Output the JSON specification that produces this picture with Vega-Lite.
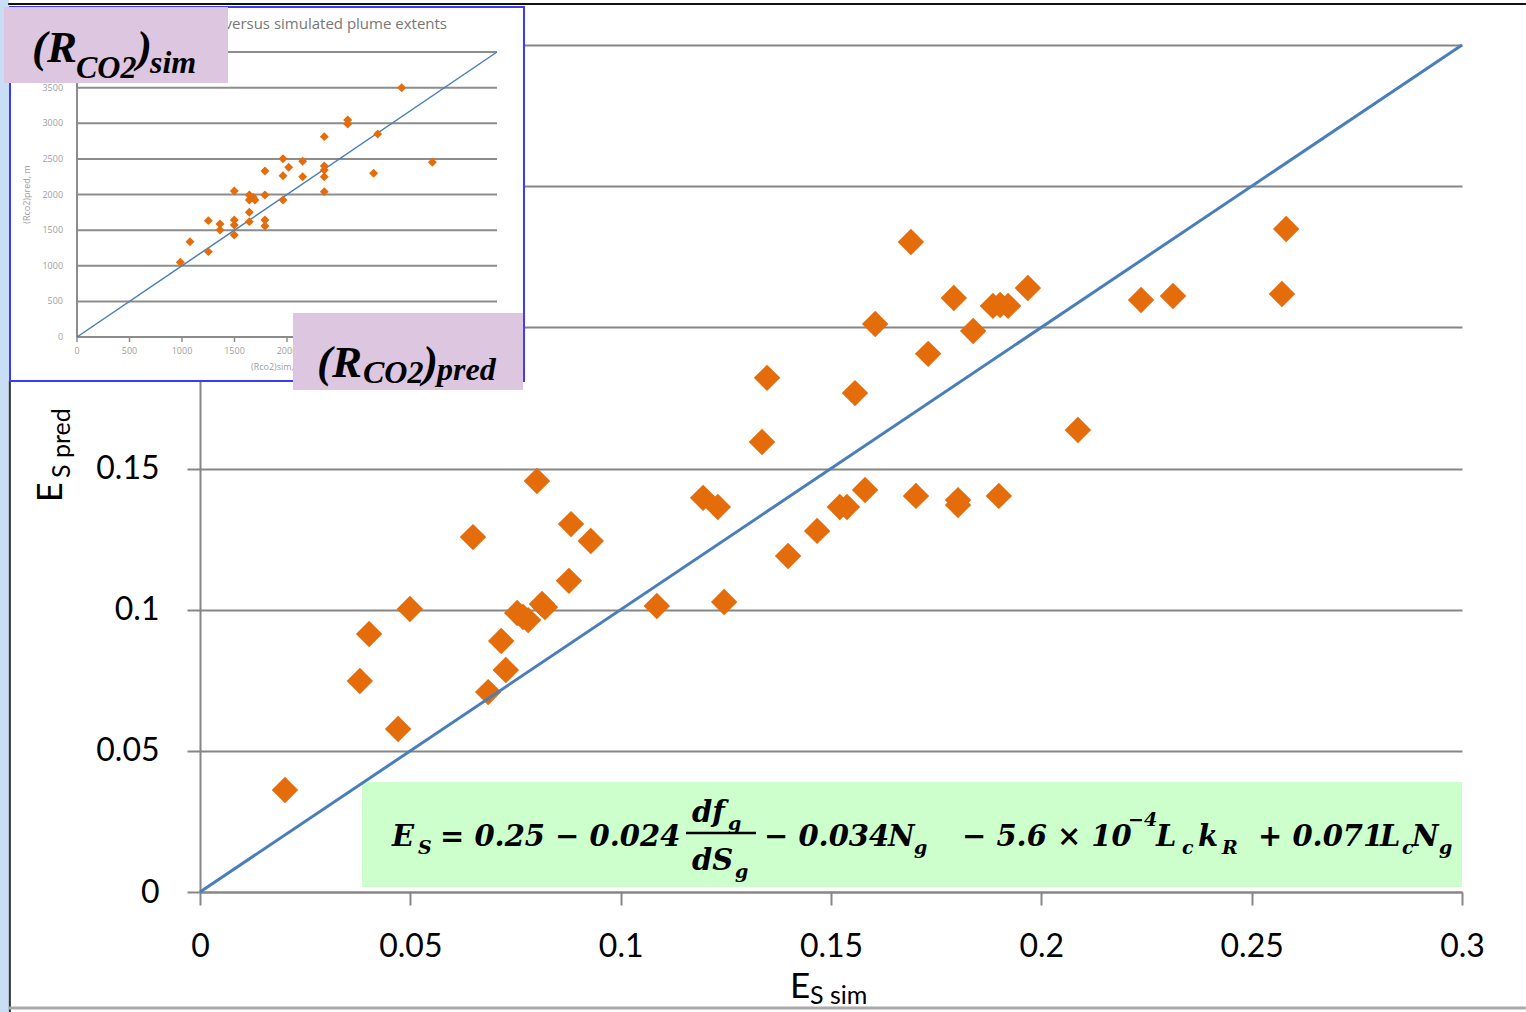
{
"$schema": "https://vega.github.io/schema/vega-lite/v6.json",
"width": 1262, "height": 847,
"autosize": {"type": "none"},
"padding": {"left": 200, "top": 45, "right": 64, "bottom": 120},
"background": "white",
"config": {"view": {"stroke": null}},
"data": {"values": [{"k": 1}]},
"datasets": {
"pts": [
{"x":0.0202,"y":0.0361},{"x":0.0380,"y":0.0747},{"x":0.0402,"y":0.0914},{"x":0.0471,"y":0.0577},{"x":0.0499,"y":0.1002},
{"x":0.0649,"y":0.1257},{"x":0.0685,"y":0.0708},{"x":0.0716,"y":0.0889},{"x":0.0727,"y":0.0786},{"x":0.0754,"y":0.0988},
{"x":0.0768,"y":0.0974},{"x":0.0780,"y":0.0963},{"x":0.0801,"y":0.1456},{"x":0.0813,"y":0.1020},{"x":0.0820,"y":0.1009},
{"x":0.0877,"y":0.1102},{"x":0.0882,"y":0.1303},{"x":0.0929,"y":0.1243},{"x":0.1086,"y":0.1013},{"x":0.1196,"y":0.1396},
{"x":0.1231,"y":0.1364},{"x":0.1246,"y":0.1027},{"x":0.1336,"y":0.1594},{"x":0.1348,"y":0.1821},{"x":0.1398,"y":0.1190},
{"x":0.1467,"y":0.1279},{"x":0.1521,"y":0.1364},{"x":0.1538,"y":0.1364},{"x":0.1557,"y":0.1767},{"x":0.1581,"y":0.1424},
{"x":0.1605,"y":0.2012},{"x":0.1690,"y":0.2302},{"x":0.1702,"y":0.1403},{"x":0.1731,"y":0.1906},{"x":0.1792,"y":0.2104},
{"x":0.1802,"y":0.1388},{"x":0.1802,"y":0.1371},{"x":0.1838,"y":0.1987},{"x":0.1885,"y":0.2076},{"x":0.1902,"y":0.2079},
{"x":0.1921,"y":0.2076},{"x":0.1899,"y":0.1403},{"x":0.1968,"y":0.2139},{"x":0.2087,"y":0.1636},{"x":0.2237,"y":0.2097},
{"x":0.2313,"y":0.2111},{"x":0.2572,"y":0.2118},{"x":0.2582,"y":0.2348}
],
"ipts": [
{"x":3092,"y":3499},{"x":2578,"y":3046},{"x":2578,"y":2989},{"x":2864,"y":2849},{"x":2355,"y":2812},
{"x":1962,"y":2503},{"x":2149,"y":2466},{"x":3384,"y":2452},{"x":2016,"y":2382},{"x":2355,"y":2400},
{"x":2355,"y":2344},{"x":2355,"y":2250},{"x":1790,"y":2330},{"x":1962,"y":2264},{"x":2149,"y":2250},
{"x":2825,"y":2297},{"x":1498,"y":2049},{"x":2355,"y":2040},{"x":1790,"y":1993},{"x":1641,"y":1993},
{"x":1641,"y":1923},{"x":1695,"y":1923},{"x":1679,"y":1960},{"x":1962,"y":1923},{"x":1641,"y":1750},
{"x":1641,"y":1619},{"x":1790,"y":1642},{"x":1790,"y":1558},{"x":1251,"y":1633},{"x":1362,"y":1586},
{"x":1362,"y":1502},{"x":1498,"y":1642},{"x":1498,"y":1572},{"x":1498,"y":1432},{"x":1076,"y":1338},
{"x":1251,"y":1198},{"x":984,"y":1048}
],
"diag": [{"a":0,"b":0},{"a":0.3,"b":0.3}],
"idiag": [{"a":0,"b":0},{"a":4000,"b":4000}],
"igrid": [{"v":0},{"v":500},{"v":1000},{"v":1500},{"v":2000},{"v":2500},{"v":3000},{"v":3500},{"v":4000}]
},
"layer": [
{
"layer": [
{"mark": {"type":"rect","color":"#c9def5"},
 "encoding": {"x":{"datum":-0.0476,"type":"quantitative","scale":{"domain":[0,0.3],"nice":false,"zero":false}},"x2":{"datum":-0.0454},
 "y":{"datum":0.316,"type":"quantitative","scale":{"domain":[0,0.3],"nice":false,"zero":false}},"y2":{"datum":-0.0425}}},
{"mark": {"type":"rule","color":"#333333","strokeWidth":2},
 "encoding": {"x":{"datum":-0.0452,"type":"quantitative","scale":{"domain":[0,0.3],"nice":false,"zero":false}},
 "y":{"datum":0.181,"type":"quantitative","scale":{"domain":[0,0.3],"nice":false,"zero":false}},"y2":{"datum":-0.0425}}},
{"mark": {"type":"rule","color":"#111111","strokeWidth":2},
 "encoding": {"x":{"datum":-0.0456,"type":"quantitative","scale":{"domain":[0,0.3],"nice":false,"zero":false}},"x2":{"datum":0.3152},
 "y":{"datum":0.3145,"type":"quantitative","scale":{"domain":[0,0.3],"nice":false,"zero":false}}}},
{"mark": {"type":"rule","color":"#aaaaaa","strokeWidth":3},
 "encoding": {"x":{"datum":-0.0454,"type":"quantitative","scale":{"domain":[0,0.3],"nice":false,"zero":false}},"x2":{"datum":0.3152},
 "y":{"datum":-0.0411,"type":"quantitative","scale":{"domain":[0,0.3],"nice":false,"zero":false}}}},
{"mark": {"type":"rect","color":"#ccffcc"},
 "encoding": {"x":{"datum":0.03851,"type":"quantitative","scale":{"domain":[0,0.3],"nice":false,"zero":false}},"x2":{"datum":0.3},
 "y":{"datum":0.03896,"type":"quantitative","scale":{"domain":[0,0.3],"nice":false,"zero":false}},"y2":{"datum":0.00177}}},
{"data": {"name":"pts"},
 "mark": {"type":"point","shape":"diamond","filled":true,"size":700,"color":"#e46c0a","opacity":1},
 "encoding": {
  "x":{"field":"x","type":"quantitative","scale":{"domain":[0,0.3],"nice":false,"zero":false},
   "axis":{"values":[0,0.05,0.1,0.15,0.2,0.25,0.3],"format":"~g","title":null,"grid":false,"labelFont":"Lato","labelFontSize":32,"labelColor":"#000000","tickColor":"#868686","tickWidth":2,"tickSize":13,"domainColor":"#868686","domainWidth":2,"labelPadding":26,"labelFlush":false,"labelOverlap":false}},
  "y":{"field":"y","type":"quantitative","scale":{"domain":[0,0.3],"nice":false,"zero":false},
   "axis":{"values":[0,0.05,0.1,0.15,0.2,0.25,0.3],"format":"~g","title":null,"grid":true,"gridColor":"#868686","gridWidth":2,"labelFont":"Lato","labelFontSize":32,"labelColor":"#000000","tickColor":"#868686","tickWidth":2,"tickSize":13,"domainColor":"#868686","domainWidth":2,"labelPadding":28,"labelFlush":false,"labelOverlap":false}}}},
{"data": {"name":"diag"},
 "mark": {"type":"line","color":"#4a7ebb","strokeWidth":3},
 "encoding": {"x":{"field":"a","type":"quantitative","scale":{"domain":[0,0.3],"nice":false,"zero":false}},
 "y":{"field":"b","type":"quantitative","scale":{"domain":[0,0.3],"nice":false,"zero":false}}}},
{"mark": {"type":"text","text":"E","font":"Lato","fontSize":34,"angle":270,"align":"left","baseline":"alphabetic","color":"#000000"},
 "encoding": {"x":{"datum":-0.03281,"type":"quantitative","scale":{"domain":[0,0.3],"nice":false,"zero":false}},
 "y":{"datum":0.13813,"type":"quantitative","scale":{"domain":[0,0.3],"nice":false,"zero":false}}}},
{"mark": {"type":"text","text":"S pred","font":"Lato","fontSize":25,"angle":270,"align":"left","baseline":"alphabetic","color":"#000000"},
 "encoding": {"x":{"datum":-0.03090,"type":"quantitative","scale":{"domain":[0,0.3],"nice":false,"zero":false}},
 "y":{"datum":0.14663,"type":"quantitative","scale":{"domain":[0,0.3],"nice":false,"zero":false}}}},
{"mark": {"type":"text","text":"E","font":"Lato","fontSize":35,"align":"left","baseline":"alphabetic","color":"#000000"},
 "encoding": {"x":{"datum":0.14025,"type":"quantitative","scale":{"domain":[0,0.3],"nice":false,"zero":false}},
 "y":{"datum":-0.03754,"type":"quantitative","scale":{"domain":[0,0.3],"nice":false,"zero":false}}}},
{"mark": {"type":"text","text":"S sim","font":"Lato","fontSize":25,"align":"left","baseline":"alphabetic","color":"#000000"},
 "encoding": {"x":{"datum":0.14501,"type":"quantitative","scale":{"domain":[0,0.3],"nice":false,"zero":false}},
 "y":{"datum":-0.03967,"type":"quantitative","scale":{"domain":[0,0.3],"nice":false,"zero":false}}}},
{"mark": {"type":"text","text":"E","font":"DejaVu Serif","fontStyle":"italic","fontWeight":"bold","fontSize":29,"align":"left","baseline":"alphabetic","color":"#000000"},
 "encoding": {"x":{"datum":0.04564,"type":"quantitative","scale":{"domain":[0,0.3],"nice":false,"zero":false}},"y":{"datum":0.01629,"type":"quantitative","scale":{"domain":[0,0.3],"nice":false,"zero":false}}}},
{"mark": {"type":"text","text":"= 0.25 − 0.024","font":"DejaVu Serif","fontStyle":"italic","fontWeight":"bold","fontSize":29,"align":"left","baseline":"alphabetic","color":"#000000"},
 "encoding": {"x":{"datum":0.05705,"type":"quantitative","scale":{"domain":[0,0.3],"nice":false,"zero":false}},"y":{"datum":0.01629,"type":"quantitative","scale":{"domain":[0,0.3],"nice":false,"zero":false}}}},
{"mark": {"type":"text","text":"− 0.034","font":"DejaVu Serif","fontStyle":"italic","fontWeight":"bold","fontSize":29,"align":"left","baseline":"alphabetic","color":"#000000"},
 "encoding": {"x":{"datum":0.13407,"type":"quantitative","scale":{"domain":[0,0.3],"nice":false,"zero":false}},"y":{"datum":0.01629,"type":"quantitative","scale":{"domain":[0,0.3],"nice":false,"zero":false}}}},
{"mark": {"type":"text","text":"N","font":"DejaVu Serif","fontStyle":"italic","fontWeight":"bold","fontSize":29,"align":"left","baseline":"alphabetic","color":"#000000"},
 "encoding": {"x":{"datum":0.16355,"type":"quantitative","scale":{"domain":[0,0.3],"nice":false,"zero":false}},"y":{"datum":0.01629,"type":"quantitative","scale":{"domain":[0,0.3],"nice":false,"zero":false}}}},
{"mark": {"type":"text","text":"− 5.6 × 10","font":"DejaVu Serif","fontStyle":"italic","fontWeight":"bold","fontSize":29,"align":"left","baseline":"alphabetic","color":"#000000"},
 "encoding": {"x":{"datum":0.18114,"type":"quantitative","scale":{"domain":[0,0.3],"nice":false,"zero":false}},"y":{"datum":0.01629,"type":"quantitative","scale":{"domain":[0,0.3],"nice":false,"zero":false}}}},
{"mark": {"type":"text","text":"L","font":"DejaVu Serif","fontStyle":"italic","fontWeight":"bold","fontSize":29,"align":"left","baseline":"alphabetic","color":"#000000"},
 "encoding": {"x":{"datum":0.22726,"type":"quantitative","scale":{"domain":[0,0.3],"nice":false,"zero":false}},"y":{"datum":0.01629,"type":"quantitative","scale":{"domain":[0,0.3],"nice":false,"zero":false}}}},
{"mark": {"type":"text","text":"k","font":"DejaVu Serif","fontStyle":"italic","fontWeight":"bold","fontSize":29,"align":"left","baseline":"alphabetic","color":"#000000"},
 "encoding": {"x":{"datum":0.23724,"type":"quantitative","scale":{"domain":[0,0.3],"nice":false,"zero":false}},"y":{"datum":0.01629,"type":"quantitative","scale":{"domain":[0,0.3],"nice":false,"zero":false}}}},
{"mark": {"type":"text","text":"+ 0.071","font":"DejaVu Serif","fontStyle":"italic","fontWeight":"bold","fontSize":29,"align":"left","baseline":"alphabetic","color":"#000000"},
 "encoding": {"x":{"datum":0.25151,"type":"quantitative","scale":{"domain":[0,0.3],"nice":false,"zero":false}},"y":{"datum":0.01629,"type":"quantitative","scale":{"domain":[0,0.3],"nice":false,"zero":false}}}},
{"mark": {"type":"text","text":"L","font":"DejaVu Serif","fontStyle":"italic","fontWeight":"bold","fontSize":29,"align":"left","baseline":"alphabetic","color":"#000000"},
 "encoding": {"x":{"datum":0.28051,"type":"quantitative","scale":{"domain":[0,0.3],"nice":false,"zero":false}},"y":{"datum":0.01629,"type":"quantitative","scale":{"domain":[0,0.3],"nice":false,"zero":false}}}},
{"mark": {"type":"text","text":"N","font":"DejaVu Serif","fontStyle":"italic","fontWeight":"bold","fontSize":29,"align":"left","baseline":"alphabetic","color":"#000000"},
 "encoding": {"x":{"datum":0.28812,"type":"quantitative","scale":{"domain":[0,0.3],"nice":false,"zero":false}},"y":{"datum":0.01629,"type":"quantitative","scale":{"domain":[0,0.3],"nice":false,"zero":false}}}},
{"mark": {"type":"text","text":"S","font":"DejaVu Serif","fontStyle":"italic","fontWeight":"bold","fontSize":19,"align":"left","baseline":"alphabetic","color":"#000000"},
 "encoding": {"x":{"datum":0.05182,"type":"quantitative","scale":{"domain":[0,0.3],"nice":false,"zero":false}},"y":{"datum":0.01346,"type":"quantitative","scale":{"domain":[0,0.3],"nice":false,"zero":false}}}},
{"mark": {"type":"text","text":"g","font":"DejaVu Serif","fontStyle":"italic","fontWeight":"bold","fontSize":19,"align":"left","baseline":"alphabetic","color":"#000000"},
 "encoding": {"x":{"datum":0.16973,"type":"quantitative","scale":{"domain":[0,0.3],"nice":false,"zero":false}},"y":{"datum":0.01346,"type":"quantitative","scale":{"domain":[0,0.3],"nice":false,"zero":false}}}},
{"mark": {"type":"text","text":"c","font":"DejaVu Serif","fontStyle":"italic","fontWeight":"bold","fontSize":19,"align":"left","baseline":"alphabetic","color":"#000000"},
 "encoding": {"x":{"datum":0.23344,"type":"quantitative","scale":{"domain":[0,0.3],"nice":false,"zero":false}},"y":{"datum":0.01346,"type":"quantitative","scale":{"domain":[0,0.3],"nice":false,"zero":false}}}},
{"mark": {"type":"text","text":"R","font":"DejaVu Serif","fontStyle":"italic","fontWeight":"bold","fontSize":19,"align":"left","baseline":"alphabetic","color":"#000000"},
 "encoding": {"x":{"datum":0.24295,"type":"quantitative","scale":{"domain":[0,0.3],"nice":false,"zero":false}},"y":{"datum":0.01346,"type":"quantitative","scale":{"domain":[0,0.3],"nice":false,"zero":false}}}},
{"mark": {"type":"text","text":"c","font":"DejaVu Serif","fontStyle":"italic","fontWeight":"bold","fontSize":19,"align":"left","baseline":"alphabetic","color":"#000000"},
 "encoding": {"x":{"datum":0.28574,"type":"quantitative","scale":{"domain":[0,0.3],"nice":false,"zero":false}},"y":{"datum":0.01346,"type":"quantitative","scale":{"domain":[0,0.3],"nice":false,"zero":false}}}},
{"mark": {"type":"text","text":"g","font":"DejaVu Serif","fontStyle":"italic","fontWeight":"bold","fontSize":19,"align":"left","baseline":"alphabetic","color":"#000000"},
 "encoding": {"x":{"datum":0.29454,"type":"quantitative","scale":{"domain":[0,0.3],"nice":false,"zero":false}},"y":{"datum":0.01346,"type":"quantitative","scale":{"domain":[0,0.3],"nice":false,"zero":false}}}},
{"mark": {"type":"text","text":"−4","font":"DejaVu Serif","fontStyle":"italic","fontWeight":"bold","fontSize":19,"align":"left","baseline":"alphabetic","color":"#000000"},
 "encoding": {"x":{"datum":0.22060,"type":"quantitative","scale":{"domain":[0,0.3],"nice":false,"zero":false}},"y":{"datum":0.02338,"type":"quantitative","scale":{"domain":[0,0.3],"nice":false,"zero":false}}}},
{"mark": {"type":"text","text":"df","font":"DejaVu Serif","fontStyle":"italic","fontWeight":"bold","fontSize":29,"align":"left","baseline":"alphabetic","color":"#000000"},
 "encoding": {"x":{"datum":0.11696,"type":"quantitative","scale":{"domain":[0,0.3],"nice":false,"zero":false}},"y":{"datum":0.02479,"type":"quantitative","scale":{"domain":[0,0.3],"nice":false,"zero":false}}}},
{"mark": {"type":"text","text":"g","font":"DejaVu Serif","fontStyle":"italic","fontWeight":"bold","fontSize":19,"align":"left","baseline":"alphabetic","color":"#000000"},
 "encoding": {"x":{"datum":0.12552,"type":"quantitative","scale":{"domain":[0,0.3],"nice":false,"zero":false}},"y":{"datum":0.02196,"type":"quantitative","scale":{"domain":[0,0.3],"nice":false,"zero":false}}}},
{"mark": {"type":"rule","color":"#000000","strokeWidth":2.5},
 "encoding": {"x":{"datum":0.11553,"type":"quantitative","scale":{"domain":[0,0.3],"nice":false,"zero":false}},"x2":{"datum":0.13217},
 "y":{"datum":0.02090,"type":"quantitative","scale":{"domain":[0,0.3],"nice":false,"zero":false}}}},
{"mark": {"type":"text","text":"dS","font":"DejaVu Serif","fontStyle":"italic","fontWeight":"bold","fontSize":29,"align":"left","baseline":"alphabetic","color":"#000000"},
 "encoding": {"x":{"datum":0.11696,"type":"quantitative","scale":{"domain":[0,0.3],"nice":false,"zero":false}},"y":{"datum":0.00779,"type":"quantitative","scale":{"domain":[0,0.3],"nice":false,"zero":false}}}},
{"mark": {"type":"text","text":"g","font":"DejaVu Serif","fontStyle":"italic","fontWeight":"bold","fontSize":19,"align":"left","baseline":"alphabetic","color":"#000000"},
 "encoding": {"x":{"datum":0.12718,"type":"quantitative","scale":{"domain":[0,0.3],"nice":false,"zero":false}},"y":{"datum":0.00496,"type":"quantitative","scale":{"domain":[0,0.3],"nice":false,"zero":false}}}}
]
},
{
"layer": [
{"mark": {"type":"rect","fill":"#ffffff","stroke":"#3b3bf5","strokeWidth":2},
 "encoding": {"x":{"datum":-638,"type":"quantitative","axis":null,"scale":{"domain":[0,4000],"range":[-123,297],"nice":false,"zero":false}},"x2":{"datum":4257},
 "y":{"datum":4632,"type":"quantitative","axis":null,"scale":{"domain":[0,4000],"range":[292,7],"nice":false,"zero":false}},"y2":{"datum":-618}}},
{"mark": {"type":"text","text":"Predicted versus simulated plume extents","font":"Open Sans","fontSize":15,"align":"right","baseline":"alphabetic","color":"#777777"},
 "encoding": {"x":{"datum":3524,"type":"quantitative","axis":null,"scale":{"domain":[0,4000],"range":[-123,297],"nice":false,"zero":false}},
 "y":{"datum":4323,"type":"quantitative","axis":null,"scale":{"domain":[0,4000],"range":[292,7],"nice":false,"zero":false}}}},
{"data": {"name":"igrid"},
 "mark": {"type":"rule","color":"#8c8c8c","strokeWidth":2},
 "encoding": {"x":{"datum":0,"type":"quantitative","axis":null,"scale":{"domain":[0,4000],"range":[-123,297],"nice":false,"zero":false}},"x2":{"datum":4000},
 "y":{"field":"v","type":"quantitative","axis":null,"scale":{"domain":[0,4000],"range":[292,7],"nice":false,"zero":false}}}},
{"mark": {"type":"rule","color":"#8c8c8c","strokeWidth":2},
 "encoding": {"x":{"datum":0,"type":"quantitative","axis":null,"scale":{"domain":[0,4000],"range":[-123,297],"nice":false,"zero":false}},
 "y":{"datum":0,"type":"quantitative","axis":null,"scale":{"domain":[0,4000],"range":[292,7],"nice":false,"zero":false}},"y2":{"datum":4000}}},
{"data": {"name":"igrid"},
 "mark": {"type":"rule","color":"#8c8c8c","strokeWidth":1.5},
 "encoding": {"x":{"field":"v","type":"quantitative","axis":null,"scale":{"domain":[0,4000],"range":[-123,297],"nice":false,"zero":false}},
 "y":{"datum":0,"type":"quantitative","axis":null,"scale":{"domain":[0,4000],"range":[292,7],"nice":false,"zero":false}},"y2":{"datum":-70}}},
{"data": {"name":"igrid"},
 "mark": {"type":"text","font":"Open Sans","fontSize":9,"align":"right","baseline":"middle","color":"#a0a0a0"},
 "encoding": {"x":{"datum":-133,"type":"quantitative","axis":null,"scale":{"domain":[0,4000],"range":[-123,297],"nice":false,"zero":false}},
 "y":{"field":"v","type":"quantitative","axis":null,"scale":{"domain":[0,4000],"range":[292,7],"nice":false,"zero":false}},"text":{"field":"v"}}},
{"data": {"name":"igrid"},
 "mark": {"type":"text","font":"Open Sans","fontSize":9,"align":"center","baseline":"middle","color":"#a0a0a0"},
 "encoding": {"x":{"field":"v","type":"quantitative","axis":null,"scale":{"domain":[0,4000],"range":[-123,297],"nice":false,"zero":false}},
 "y":{"datum":-196,"type":"quantitative","axis":null,"scale":{"domain":[0,4000],"range":[292,7],"nice":false,"zero":false}},"text":{"field":"v"}}},
{"mark": {"type":"text","text":"(Rco2)pred, m","font":"Open Sans","fontSize":9,"angle":270,"align":"center","baseline":"middle","color":"#a0a0a0"},
 "encoding": {"x":{"datum":-476,"type":"quantitative","axis":null,"scale":{"domain":[0,4000],"range":[-123,297],"nice":false,"zero":false}},
 "y":{"datum":2000,"type":"quantitative","axis":null,"scale":{"domain":[0,4000],"range":[292,7],"nice":false,"zero":false}}}},
{"mark": {"type":"text","text":"(Rco2)sim, m","font":"Open Sans","fontSize":9,"align":"left","baseline":"middle","color":"#a0a0a0"},
 "encoding": {"x":{"datum":1657,"type":"quantitative","axis":null,"scale":{"domain":[0,4000],"range":[-123,297],"nice":false,"zero":false}},
 "y":{"datum":-421,"type":"quantitative","axis":null,"scale":{"domain":[0,4000],"range":[292,7],"nice":false,"zero":false}}}},
{"data": {"name":"idiag"},
 "mark": {"type":"line","color":"#4a7ebb","strokeWidth":1.5},
 "encoding": {"x":{"field":"a","type":"quantitative","axis":null,"scale":{"domain":[0,4000],"range":[-123,297],"nice":false,"zero":false}},
 "y":{"field":"b","type":"quantitative","axis":null,"scale":{"domain":[0,4000],"range":[292,7],"nice":false,"zero":false}}}},
{"data": {"name":"ipts"},
 "mark": {"type":"point","shape":"diamond","filled":true,"size":80,"color":"#e46c0a","opacity":1},
 "encoding": {"x":{"field":"x","type":"quantitative","axis":null,"scale":{"domain":[0,4000],"range":[-123,297],"nice":false,"zero":false}},
 "y":{"field":"y","type":"quantitative","axis":null,"scale":{"domain":[0,4000],"range":[292,7],"nice":false,"zero":false}}}},
{"mark": {"type":"rect","color":"#dcc6e0"},
 "encoding": {"x":{"datum":-695,"type":"quantitative","axis":null,"scale":{"domain":[0,4000],"range":[-123,297],"nice":false,"zero":false}},"x2":{"datum":1438},
 "y":{"datum":4632,"type":"quantitative","axis":null,"scale":{"domain":[0,4000],"range":[292,7],"nice":false,"zero":false}},"y2":{"datum":3565}}},
{"mark": {"type":"rect","color":"#dcc6e0"},
 "encoding": {"x":{"datum":2057,"type":"quantitative","axis":null,"scale":{"domain":[0,4000],"range":[-123,297],"nice":false,"zero":false}},"x2":{"datum":4248},
 "y":{"datum":337,"type":"quantitative","axis":null,"scale":{"domain":[0,4000],"range":[292,7],"nice":false,"zero":false}},"y2":{"datum":-744}}},
{"mark": {"type":"text","text":"(R","font":"Liberation Serif","fontStyle":"italic","fontWeight":"bold","fontSize":45,"align":"left","baseline":"alphabetic","color":"#000000"},
 "encoding": {"x":{"datum":-429,"type":"quantitative","axis":null,"scale":{"domain":[0,4000],"range":[-123,297],"nice":false,"zero":false}},
 "y":{"datum":3860,"type":"quantitative","axis":null,"scale":{"domain":[0,4000],"range":[292,7],"nice":false,"zero":false}}}},
{"mark": {"type":"text","text":"CO2","font":"Liberation Serif","fontStyle":"italic","fontWeight":"bold","fontSize":32,"align":"left","baseline":"alphabetic","color":"#000000"},
 "encoding": {"x":{"datum":-10,"type":"quantitative","axis":null,"scale":{"domain":[0,4000],"range":[-123,297],"nice":false,"zero":false}},
 "y":{"datum":3635,"type":"quantitative","axis":null,"scale":{"domain":[0,4000],"range":[292,7],"nice":false,"zero":false}}}},
{"mark": {"type":"text","text":")","font":"Liberation Serif","fontStyle":"italic","fontWeight":"bold","fontSize":45,"align":"left","baseline":"alphabetic","color":"#000000"},
 "encoding": {"x":{"datum":571,"type":"quantitative","axis":null,"scale":{"domain":[0,4000],"range":[-123,297],"nice":false,"zero":false}},
 "y":{"datum":3860,"type":"quantitative","axis":null,"scale":{"domain":[0,4000],"range":[292,7],"nice":false,"zero":false}}}},
{"mark": {"type":"text","text":"sim","font":"Liberation Serif","fontStyle":"italic","fontWeight":"bold","fontSize":32,"align":"left","baseline":"alphabetic","color":"#000000"},
 "encoding": {"x":{"datum":695,"type":"quantitative","axis":null,"scale":{"domain":[0,4000],"range":[-123,297],"nice":false,"zero":false}},
 "y":{"datum":3705,"type":"quantitative","axis":null,"scale":{"domain":[0,4000],"range":[292,7],"nice":false,"zero":false}}}},
{"mark": {"type":"text","text":"(R","font":"Liberation Serif","fontStyle":"italic","fontWeight":"bold","fontSize":45,"align":"left","baseline":"alphabetic","color":"#000000"},
 "encoding": {"x":{"datum":2286,"type":"quantitative","axis":null,"scale":{"domain":[0,4000],"range":[-123,297],"nice":false,"zero":false}},
 "y":{"datum":-561,"type":"quantitative","axis":null,"scale":{"domain":[0,4000],"range":[292,7],"nice":false,"zero":false}}}},
{"mark": {"type":"text","text":"CO2","font":"Liberation Serif","fontStyle":"italic","fontWeight":"bold","fontSize":32,"align":"left","baseline":"alphabetic","color":"#000000"},
 "encoding": {"x":{"datum":2724,"type":"quantitative","axis":null,"scale":{"domain":[0,4000],"range":[-123,297],"nice":false,"zero":false}},
 "y":{"datum":-646,"type":"quantitative","axis":null,"scale":{"domain":[0,4000],"range":[292,7],"nice":false,"zero":false}}}},
{"mark": {"type":"text","text":")","font":"Liberation Serif","fontStyle":"italic","fontWeight":"bold","fontSize":45,"align":"left","baseline":"alphabetic","color":"#000000"},
 "encoding": {"x":{"datum":3295,"type":"quantitative","axis":null,"scale":{"domain":[0,4000],"range":[-123,297],"nice":false,"zero":false}},
 "y":{"datum":-561,"type":"quantitative","axis":null,"scale":{"domain":[0,4000],"range":[292,7],"nice":false,"zero":false}}}},
{"mark": {"type":"text","text":"pred","font":"Liberation Serif","fontStyle":"italic","fontWeight":"bold","fontSize":32,"align":"left","baseline":"alphabetic","color":"#000000"},
 "encoding": {"x":{"datum":3429,"type":"quantitative","axis":null,"scale":{"domain":[0,4000],"range":[-123,297],"nice":false,"zero":false}},
 "y":{"datum":-604,"type":"quantitative","axis":null,"scale":{"domain":[0,4000],"range":[292,7],"nice":false,"zero":false}}}}
]
}
],
"resolve": {"scale": {"x": "independent", "y": "independent"}}
}
